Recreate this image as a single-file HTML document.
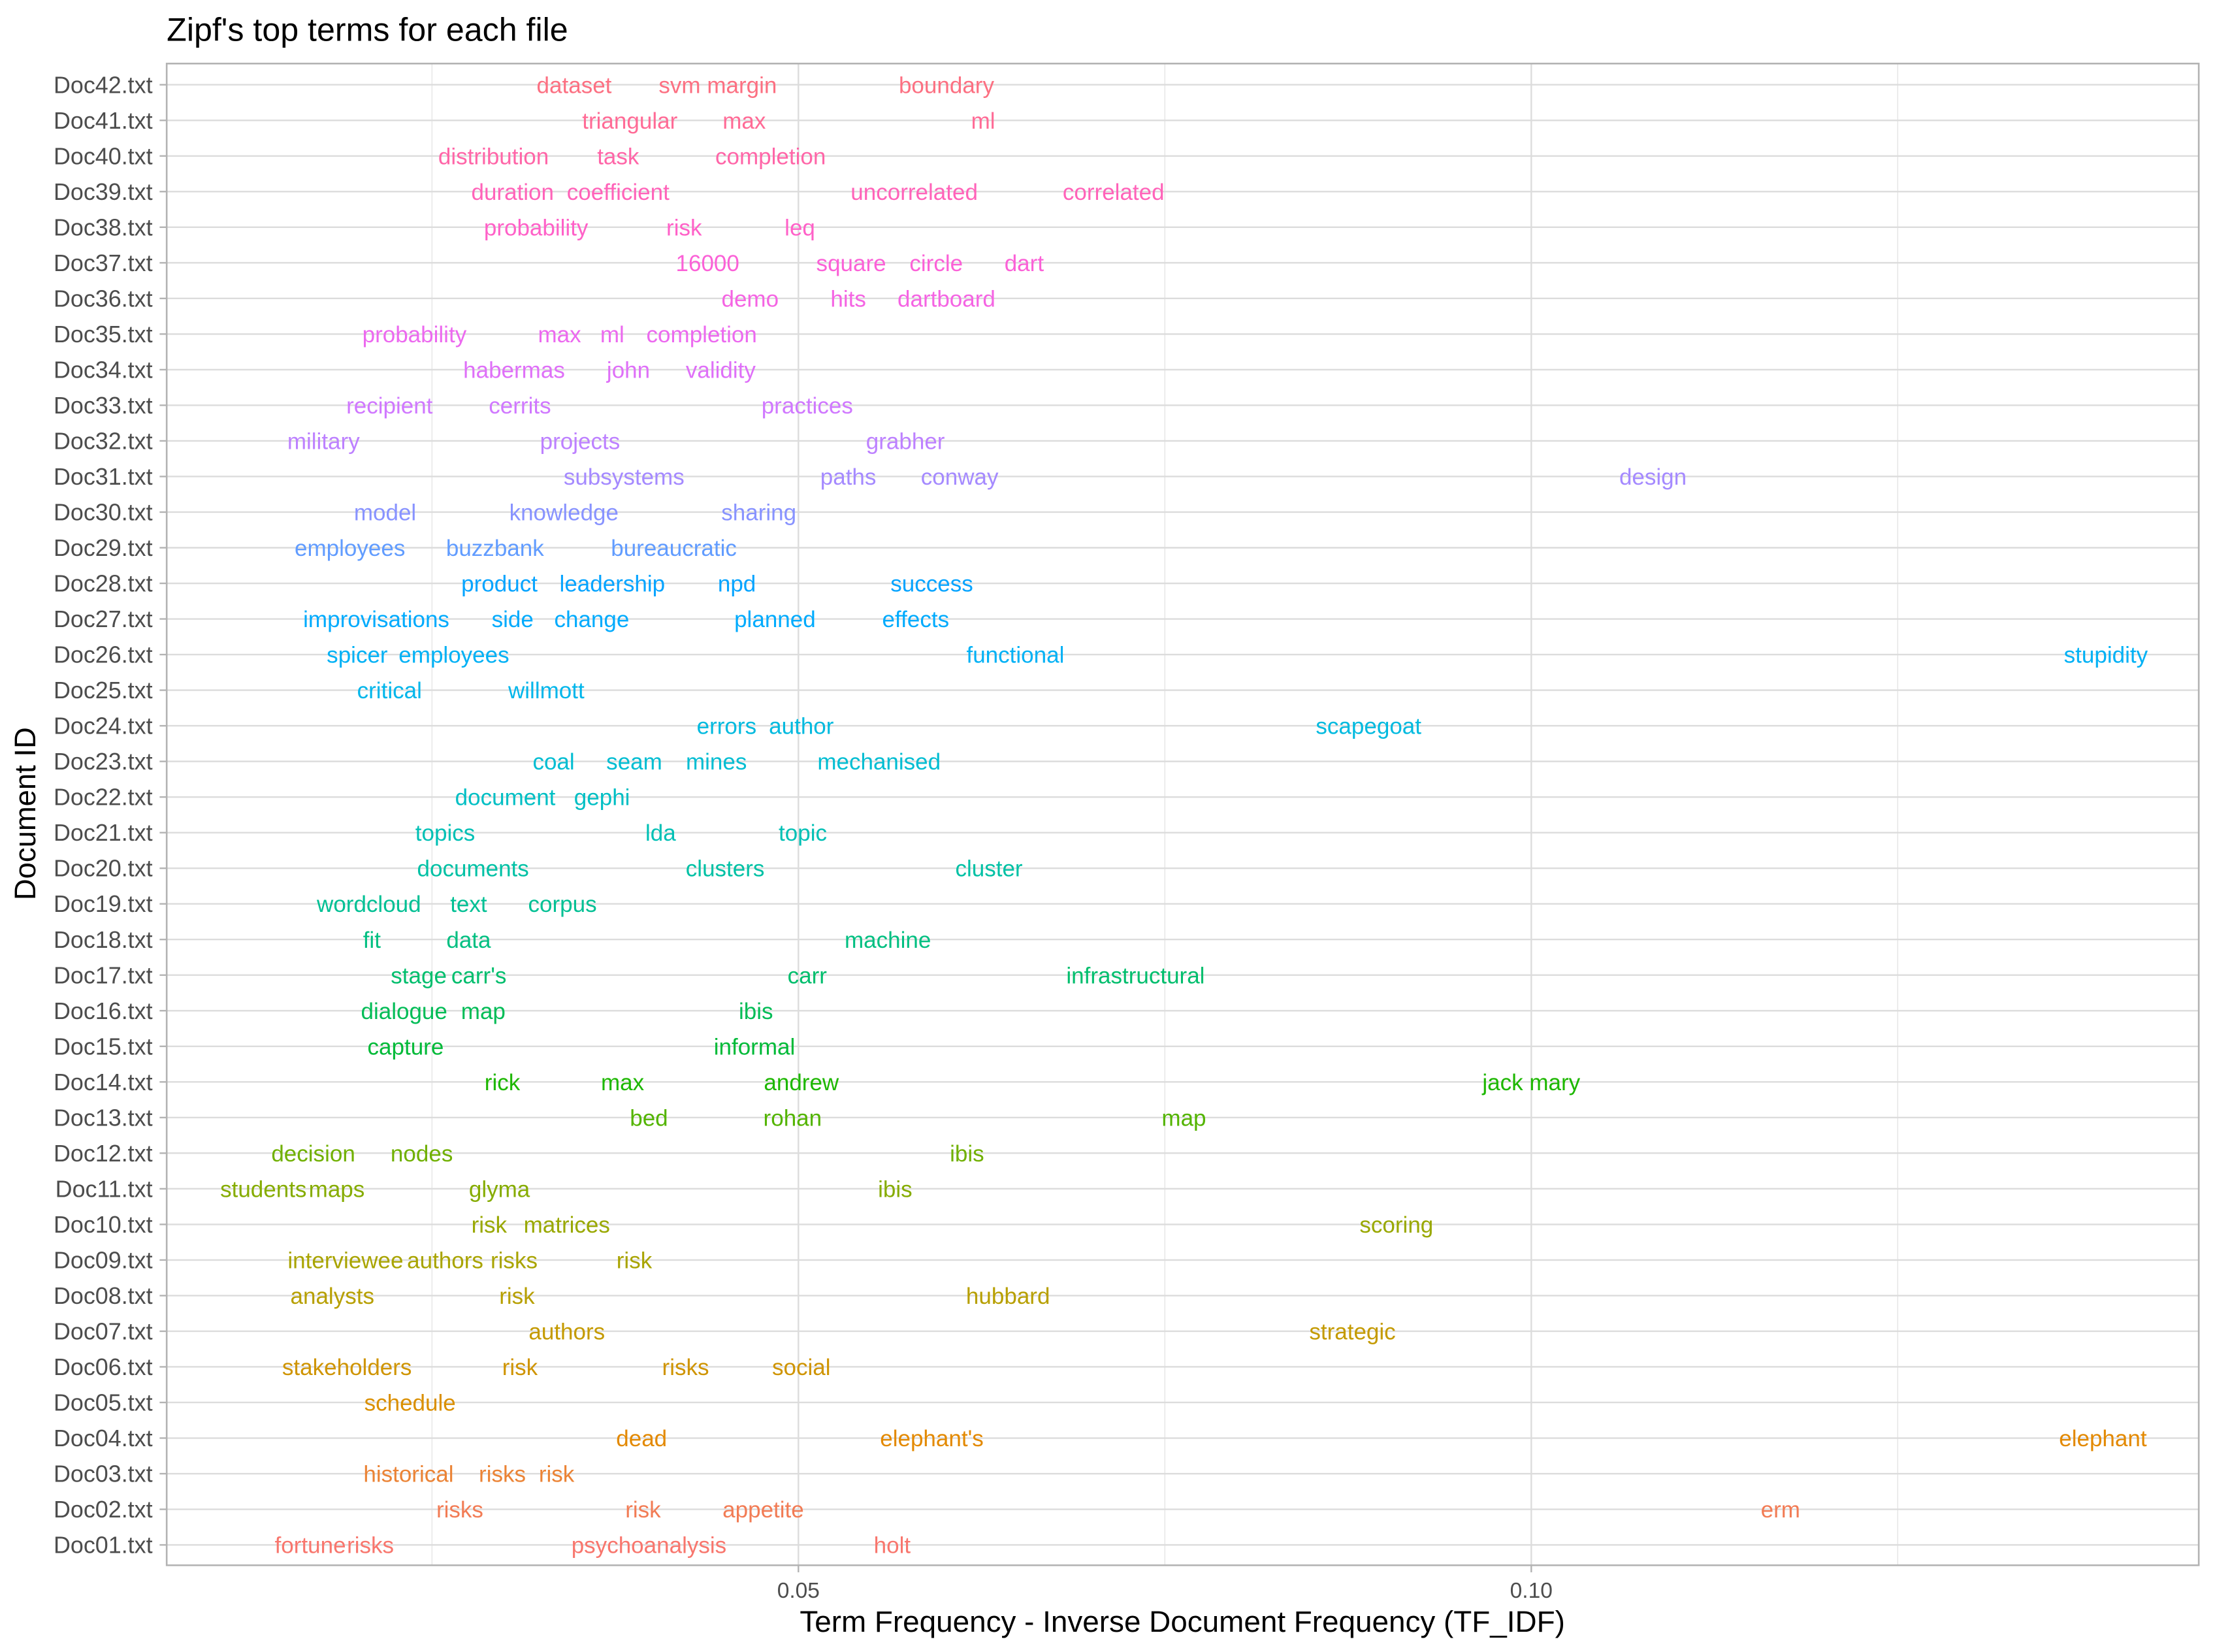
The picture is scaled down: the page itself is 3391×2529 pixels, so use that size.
<!DOCTYPE html>
<html><head><meta charset="utf-8"><style>html,body{margin:0;padding:0;background:#fff}svg{display:block}text{font-family:"Liberation Sans",Arial,sans-serif}</style></head>
<body>
<svg id="chart" xmlns="http://www.w3.org/2000/svg" width="3391" height="2529" viewBox="0 0 1568 1169.4" preserveAspectRatio="none">
<rect x="0" y="0" width="1568" height="1169.4" fill="#fff"/>
<text x="118" y="29" font-size="23.2" fill="#000">Zipf's top terms for each file</text>
<g id="grid"></g>
<g id="marks"></g>
<g id="axes"></g>
<rect x="118" y="45" width="1438.5" height="1063" fill="none" stroke="#b3b3b3" stroke-width="1.2"/>
<text x="837" y="1155" font-size="21.2" text-anchor="middle" fill="#000">Term Frequency - Inverse Document Frequency (TF_IDF)</text>
<text transform="translate(25,576) rotate(-90)" font-size="21" text-anchor="middle" fill="#000">Document ID</text>
</svg>
<script>
const docs = ["Doc01.txt","Doc02.txt","Doc03.txt","Doc04.txt","Doc05.txt","Doc06.txt","Doc07.txt","Doc08.txt","Doc09.txt","Doc10.txt","Doc11.txt","Doc12.txt","Doc13.txt","Doc14.txt","Doc15.txt","Doc16.txt","Doc17.txt","Doc18.txt","Doc19.txt","Doc20.txt","Doc21.txt","Doc22.txt","Doc23.txt","Doc24.txt","Doc25.txt","Doc26.txt","Doc27.txt","Doc28.txt","Doc29.txt","Doc30.txt","Doc31.txt","Doc32.txt","Doc33.txt","Doc34.txt","Doc35.txt","Doc36.txt","Doc37.txt","Doc38.txt","Doc39.txt","Doc40.txt","Doc41.txt","Doc42.txt"];
const termDocs = [0,0,0,0, 1,1,1,1, 2,2,2, 3,3,3, 4, 5,5,5,5, 6,6, 7,7,7, 8,8,8,8, 9,9,9, 10,10,10,10, 11,11,11, 12,12,12, 13,13,13,13, 14,14, 15,15,15, 16,16,16,16, 17,17,17, 18,18,18, 19,19,19, 20,20,20, 21,21, 22,22,22,22, 23,23,23, 24,24, 25,25,25,25, 26,26,26,26,26, 27,27,27,27, 28,28,28, 29,29,29, 30,30,30,30, 31,31,31, 32,32,32, 33,33,33, 34,34,34,34, 35,35,35, 36,36,36,36, 37,37,37, 38,38,38,38, 39,39,39, 40,40,40, 41,41,41];
const terms = ["fortune","risks","psychoanalysis","holt", "risks","risk","appetite","erm", "historical","risks","risk", "dead","elephant's","elephant", "schedule", "stakeholders","risk","risks","social", "authors","strategic", "analysts","risk","hubbard", "interviewee","authors","risks","risk", "risk","matrices","scoring", "students","maps","glyma","ibis", "decision","nodes","ibis", "bed","rohan","map", "rick","max","andrew","jack mary", "capture","informal", "dialogue","map","ibis", "stage","carr's","carr","infrastructural", "fit","data","machine", "wordcloud","text","corpus", "documents","clusters","cluster", "topics","lda","topic", "document","gephi", "coal","seam","mines","mechanised", "errors","author","scapegoat", "critical","willmott", "spicer","employees","functional","stupidity", "improvisations","side","change","planned","effects", "product","leadership","npd","success", "employees","buzzbank","bureaucratic", "model","knowledge","sharing", "subsystems","paths","conway","design", "military","projects","grabher", "recipient","cerrits","practices", "habermas","john","validity", "probability","max","ml","completion", "demo","hits","dartboard", "16000","square","circle","dart", "probability","risk","leq", "duration","coefficient","uncorrelated","correlated", "distribution","task","completion", "triangular","max","ml", "dataset","svm margin","boundary"];
const tfidf = [0.0167,0.0208,0.0398,0.0564, 0.0269,0.0394,0.0476,0.1170, 0.0234,0.0298,0.0335, 0.0393,0.0591,0.1390, 0.0235, 0.0192,0.0310,0.0423,0.0502, 0.0342,0.0878, 0.0182,0.0308,0.0643, 0.0191,0.0259,0.0306,0.0388, 0.0289,0.0342,0.0908, 0.0135,0.0185,0.0296,0.0566, 0.0169,0.0243,0.0615, 0.0398,0.0496,0.0763, 0.0298,0.0380,0.0502,0.1000, 0.0232,0.0470, 0.0231,0.0285,0.0471, 0.0241,0.0282,0.0506,0.0730, 0.0209,0.0275,0.0561, 0.0207,0.0275,0.0339, 0.0278,0.0450,0.0630, 0.0259,0.0406,0.0503, 0.0300,0.0366, 0.0333,0.0388,0.0444,0.0555, 0.0451,0.0502,0.0889, 0.0221,0.0328, 0.0199,0.0265,0.0648,0.1392, 0.0212,0.0305,0.0359,0.0484,0.0580, 0.0296,0.0373,0.0458,0.0591, 0.0194,0.0293,0.0415, 0.0218,0.0340,0.0473, 0.0381,0.0534,0.0610,0.1083, 0.0176,0.0351,0.0573, 0.0221,0.0310,0.0506, 0.0306,0.0384,0.0447, 0.0238,0.0337,0.0373,0.0434, 0.0467,0.0534,0.0601, 0.0438,0.0536,0.0594,0.0654, 0.0321,0.0422,0.0501, 0.0305,0.0377,0.0579,0.0715, 0.0292,0.0377,0.0481, 0.0385,0.0463,0.0626, 0.0347,0.0445,0.0601];
const majorTicks = [0.05, 0.10];
const majorTickLabels = ["0.05", "0.10"];
const minorTicks = [0.025, 0.075, 0.125];

const NS = "http://www.w3.org/2000/svg";
function x(v){ return 565.2 + (v - 0.05) * 10376; }
function y(i){ return 1093.6 - i * 25.21; }
function hcl(h){
  const L=65,C=100,Xn=95.047,Yn=100,Zn=108.883;
  const hr=h*Math.PI/180,U=C*Math.cos(hr),V=C*Math.sin(hr);
  const Y=Yn*Math.pow((L+16)/116,3);
  const den=Xn+15*Yn+3*Zn,un=4*Xn/den,vn=9*Yn/den;
  const u=U/(13*L)+un,v=V/(13*L)+vn;
  const X=9*Y*u/(4*v),Z=-X/3-5*Y+3*Y/v;
  const xx=X/100,yy=Y/100,zz=Z/100;
  let r=3.240479*xx-1.53715*yy-0.498535*zz;
  let g=-0.969256*xx+1.875992*yy+0.041556*zz;
  let b=0.055648*xx-0.204043*yy+1.057311*zz;
  const gam=c=>{c=c<=0.0031308?12.92*c:1.055*Math.pow(c,1/2.4)-0.055;return Math.round(Math.max(0,Math.min(1,c))*255);};
  return "rgb("+gam(r)+","+gam(g)+","+gam(b)+")";
}
const grid=document.getElementById("grid"), marks=document.getElementById("marks"), axes=document.getElementById("axes");
function mk(tag, attrs, parent){ const e=document.createElementNS(NS,tag); for(const k in attrs) e.setAttribute(k,attrs[k]); parent.appendChild(e); return e; }

minorTicks.forEach(v=>{
  const l=mk("line",{x1:x(v),x2:x(v),y1:45,y2:1108,stroke:"#e3e3e3","stroke-width":0.6},grid);
  
  
});
majorTicks.forEach((v,i)=>{
  const l=mk("line",{x1:x(v),x2:x(v),y1:45,y2:1108,stroke:"#dcdcdc","stroke-width":1.1},grid);
  
  
  const t=mk("line",{x1:x(v),x2:x(v),y1:1108,y2:1113,stroke:"#b3b3b3","stroke-width":1.1},axes);
  
  
  const lb=mk("text",{x:x(v),y:1131,"font-size":15.5,"text-anchor":"middle",fill:"#4d4d4d"},axes);
  lb.textContent=majorTickLabels[i];
  
  
});
docs.forEach((d,i)=>{
  const l=mk("line",{x1:118,x2:1556.5,y1:y(i),y2:y(i),stroke:"#dcdcdc","stroke-width":1.1},grid);
  
  
  const t=mk("line",{x1:113,x2:118,y1:y(i),y2:y(i),stroke:"#b3b3b3","stroke-width":1.1},axes);
  
  
  const lb=mk("text",{x:108,y:y(i)+5.8,"font-size":16.6,"text-anchor":"end",fill:"#4d4d4d"},axes);
  lb.textContent=d;
  
  
});
terms.forEach((term,k)=>{
  const di=termDocs[k];
  const col=hcl(15+di*360/42);
  const t=mk("text",{x:x(tfidf[k]),y:y(di)+5.8,"font-size":16.2,"text-anchor":"middle",fill:col},marks);
  t.textContent=term;
  
  
});
</script>
</body></html>
